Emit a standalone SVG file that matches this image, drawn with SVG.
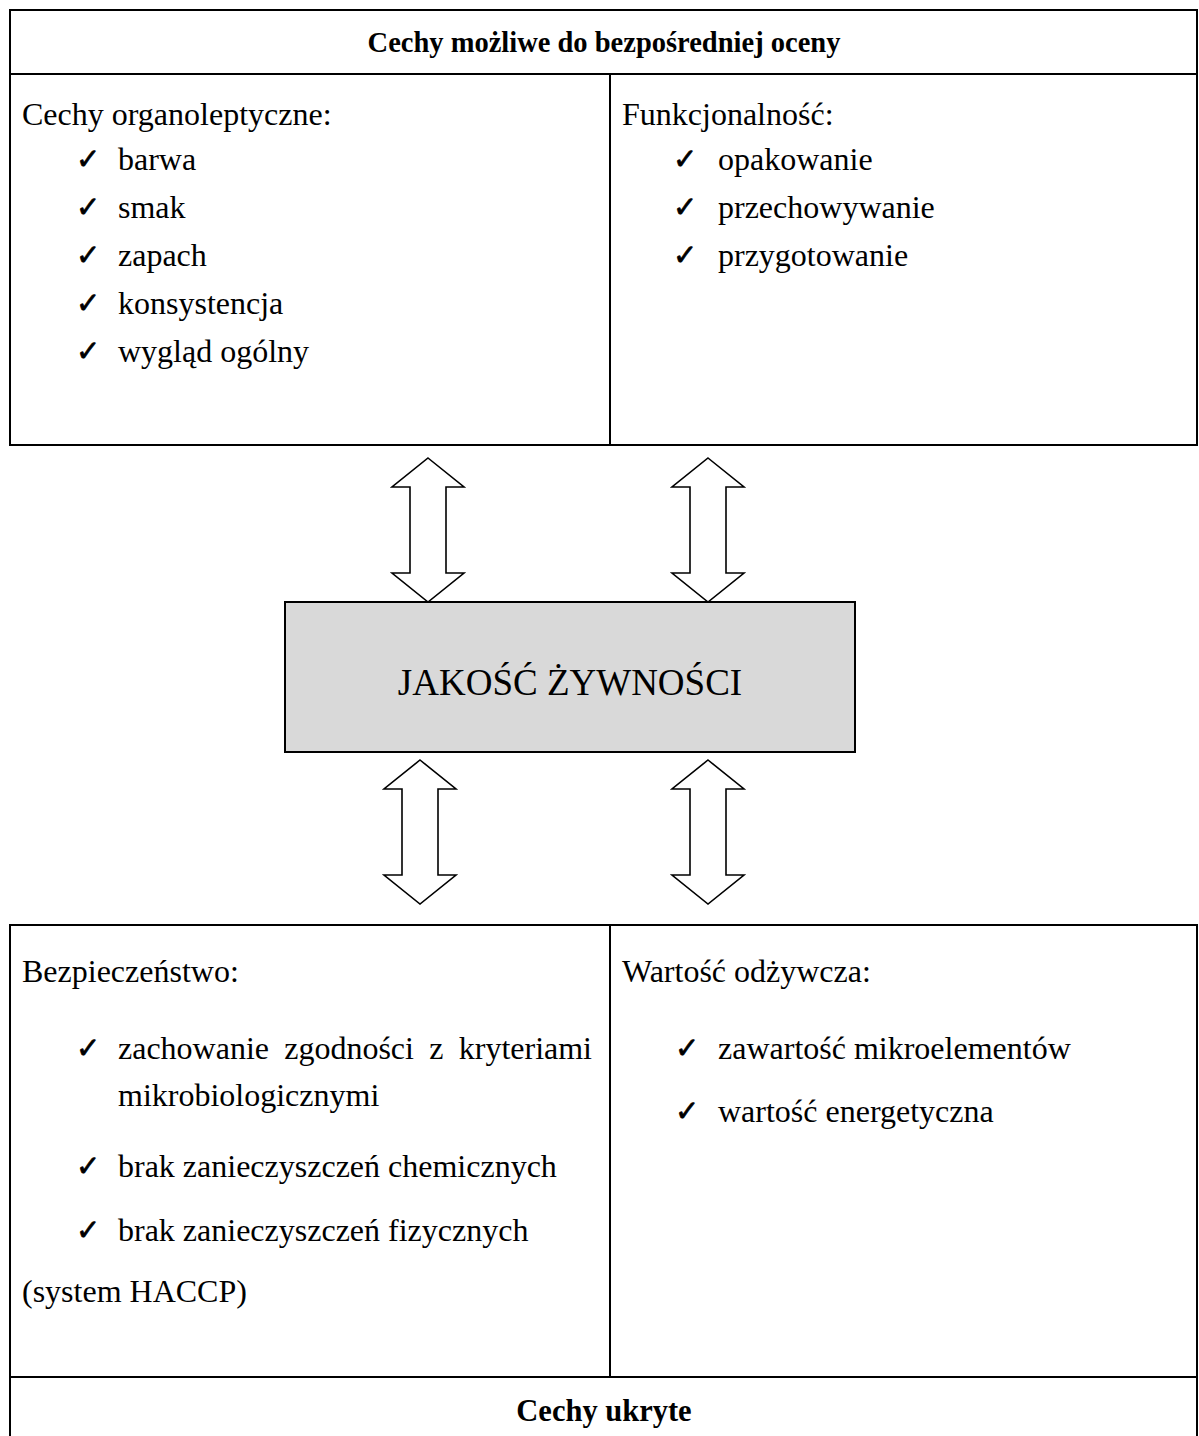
<svg xmlns="http://www.w3.org/2000/svg" width="1199" height="1436" viewBox="0 0 1199 1436">
  <style>
    .line { stroke: #000; stroke-width: 2; fill: none; }
    .txt { font-family: "Liberation Serif", "Times New Roman", serif; font-size: 32px; fill: #000; }
    .head { font-weight: bold; font-size: 28.5px; }
    .foot { font-weight: bold; font-size: 30.5px; }
    .big { font-size: 37px; }
    .chk { font-family: "DejaVu Sans", sans-serif; font-size: 29px; fill: #000; stroke: #000; stroke-width: 0.7; }
    .arrow { fill: #fff; stroke: #000; stroke-width: 1.6; stroke-linejoin: miter; }
    .core { fill: #d9d9d9; stroke: #000; stroke-width: 2; }
  </style>
  <defs>
    <!-- double-headed block arrow, 144 tall, tip at origin -->
    <path id="dblArrow" d="M0,0 L36,29 L18,29 L18,115 L36,115 L0,144 L-36,115 L-18,115 L-18,29 L-36,29 Z"/>
  </defs>
  <rect width="1199" height="1436" fill="#fff"/>

  <!-- upper table: directly assessable features -->
  <g id="visible-features">
    <rect class="line" x="10" y="10" width="1187" height="435"/>
    <line class="line" x1="10" y1="74" x2="1197" y2="74"/>
    <line class="line" x1="610" y1="74" x2="610" y2="445"/>
    <text class="txt head" x="604" y="52" text-anchor="middle">Cechy możliwe do bezpośredniej oceny</text>
  </g>

  <g id="organoleptic">
    <text class="txt" x="22" y="125">Cechy organoleptyczne:</text>
    <text class="chk" x="76" y="169">✓</text><text class="txt" x="118" y="170">barwa</text>
    <text class="chk" x="76" y="217">✓</text><text class="txt" x="118" y="218">smak</text>
    <text class="chk" x="76" y="265">✓</text><text class="txt" x="118" y="266">zapach</text>
    <text class="chk" x="76" y="313">✓</text><text class="txt" x="118" y="314">konsystencja</text>
    <text class="chk" x="76" y="361">✓</text><text class="txt" x="118" y="362">wygląd ogólny</text>
  </g>

  <g id="functionality">
    <text class="txt" x="622" y="125">Funkcjonalność:</text>
    <text class="chk" x="673" y="169">✓</text><text class="txt" x="718" y="170">opakowanie</text>
    <text class="chk" x="673" y="217">✓</text><text class="txt" x="718" y="218">przechowywanie</text>
    <text class="chk" x="673" y="265">✓</text><text class="txt" x="718" y="266">przygotowanie</text>
  </g>

  <!-- central node -->
  <g id="food-quality">
    <rect class="core" x="285" y="602" width="570" height="150"/>
    <text class="txt big" x="570" y="695" text-anchor="middle">JAKOŚĆ ŻYWNOŚCI</text>
  </g>

  <!-- two-way arrows linking the central node with both tables -->
  <g id="connectors">
    <use href="#dblArrow" class="arrow" transform="translate(428,458)"/>
    <use href="#dblArrow" class="arrow" transform="translate(708,458)"/>
    <use href="#dblArrow" class="arrow" transform="translate(420,760)"/>
    <use href="#dblArrow" class="arrow" transform="translate(708,760)"/>
  </g>

  <!-- lower table: hidden features -->
  <g id="hidden-features">
    <polyline class="line" points="10,1440 10,925 1197,925 1197,1440"/>
    <line class="line" x1="610" y1="925" x2="610" y2="1377"/>
    <line class="line" x1="10" y1="1377" x2="1197" y2="1377"/>
    <text class="txt foot" x="604" y="1421" text-anchor="middle">Cechy ukryte</text>
  </g>

  <g id="safety">
    <text class="txt" x="22" y="982">Bezpieczeństwo:</text>
    <text class="chk" x="76" y="1058">✓</text>
    <text class="txt" x="118" y="1059">zachowanie</text>
    <text class="txt" x="284.2" y="1059">zgodności</text>
    <text class="txt" x="429.2" y="1059">z</text>
    <text class="txt" x="592" y="1059" text-anchor="end">kryteriami</text>
    <text class="txt" x="118" y="1106">mikrobiologicznymi</text>
    <text class="chk" x="76" y="1176">✓</text><text class="txt" x="118" y="1177">brak zanieczyszczeń chemicznych</text>
    <text class="chk" x="76" y="1240">✓</text><text class="txt" x="118" y="1241">brak zanieczyszczeń fizycznych</text>
    <text class="txt" x="22" y="1302">(system HACCP)</text>
  </g>

  <g id="nutrition">
    <text class="txt" x="622" y="982">Wartość odżywcza:</text>
    <text class="chk" x="675" y="1058">✓</text><text class="txt" x="718" y="1059">zawartość mikroelementów</text>
    <text class="chk" x="675" y="1121">✓</text><text class="txt" x="718" y="1122">wartość energetyczna</text>
  </g>
</svg>
